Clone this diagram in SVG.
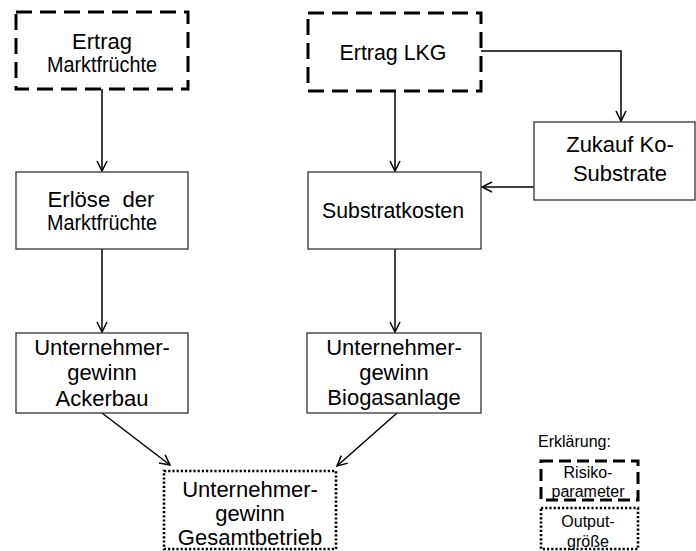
<svg xmlns="http://www.w3.org/2000/svg" width="696" height="551" viewBox="0 0 696 551">
  <style>
    text { font-family: "Liberation Sans", Arial, sans-serif; font-size: 22px; fill: #000; text-anchor: middle; }
    .small { font-size: 16px; }
    .legend-title { font-size: 16px; text-anchor: start; }
    .solid { fill: #fff; stroke: #333; stroke-width: 1.3; }
    .risk { fill: #fff; stroke: #000; stroke-width: 3; stroke-dasharray: 16 8; }
    .risk-small { fill: none; stroke: #000; stroke-width: 3; stroke-dasharray: 12 6; }
    .output { fill: #fff; stroke: #000; stroke-width: 2.6; stroke-dasharray: 2.2 2; }
    .edge { fill: none; stroke: #000; stroke-width: 1.5; marker-end: url(#arrow); }
  </style>
  <defs>
    <marker id="arrow" viewBox="0 0 12 12" refX="11" refY="6" markerWidth="12" markerHeight="12" markerUnits="userSpaceOnUse" orient="auto">
      <path d="M1,1 L11,6 L1,11" fill="none" stroke="#000" stroke-width="1.5"/>
    </marker>
  </defs>

  <rect width="696" height="551" fill="#fff"/>

  <g id="connectors">
    <path class="edge" d="M102,89 V171"/>
    <path class="edge" d="M395,91 V171"/>
    <path class="edge" d="M481,51 H621 V121"/>
    <path class="edge" d="M534,187 H482"/>
    <path class="edge" d="M102,249 V332"/>
    <path class="edge" d="M395,249 V332"/>
    <path class="edge" d="M102,413 L170,465"/>
    <path class="edge" d="M397,413 L337,466"/>
  </g>

  <g id="ertrag-marktfruechte">
    <rect class="risk" x="16" y="12" width="172" height="77"/>
    <text x="102" y="49">Ertrag</text>
    <text x="102" y="72" textLength="110" lengthAdjust="spacingAndGlyphs">Marktfrüchte</text>
  </g>

  <g id="ertrag-lkg">
    <rect class="risk" x="308" y="13" width="173" height="78"/>
    <text x="393" y="60" textLength="107" lengthAdjust="spacingAndGlyphs">Ertrag LKG</text>
  </g>

  <g id="zukauf-ko-substrate">
    <rect class="solid" x="534" y="122" width="161" height="78"/>
    <text x="620" y="152">Zukauf Ko-</text>
    <text x="620" y="181">Substrate</text>
  </g>

  <g id="erloese-marktfruechte">
    <rect class="solid" x="16" y="172" width="172" height="77"/>
    <text x="101" y="207" textLength="107" lengthAdjust="spacingAndGlyphs">Erlöse&#160; der</text>
    <text x="102" y="230" textLength="110" lengthAdjust="spacingAndGlyphs">Marktfrüchte</text>
  </g>

  <g id="substratkosten">
    <rect class="solid" x="308" y="172" width="173" height="77"/>
    <text x="393" y="218" textLength="142" lengthAdjust="spacingAndGlyphs">Substratkosten</text>
  </g>

  <g id="gewinn-ackerbau">
    <rect class="solid" x="16" y="333" width="172" height="80"/>
    <text x="102" y="355">Unternehmer-</text>
    <text x="102" y="380">gewinn</text>
    <text x="102" y="406">Ackerbau</text>
  </g>

  <g id="gewinn-biogasanlage">
    <rect class="solid" x="307" y="333" width="174" height="80"/>
    <text x="394" y="355">Unternehmer-</text>
    <text x="394" y="380">gewinn</text>
    <text x="394" y="405">Biogasanlage</text>
  </g>

  <g id="gewinn-gesamtbetrieb">
    <rect class="output" x="164" y="471" width="172" height="78"/>
    <text x="250" y="497">Unternehmer-</text>
    <text x="250" y="521">gewinn</text>
    <text x="250" y="545">Gesamtbetrieb</text>
  </g>

  <g id="legend">
    <text class="legend-title" x="538" y="447">Erklärung:</text>
    <rect class="risk-small" x="541" y="461" width="97" height="39"/>
    <text class="small" x="588" y="478">Risiko-</text>
    <text class="small" x="588" y="497">parameter</text>
    <rect class="output" x="541" y="508" width="97" height="41"/>
    <text class="small" x="588" y="527">Output-</text>
    <text class="small" x="588" y="547">größe</text>
  </g>
</svg>
